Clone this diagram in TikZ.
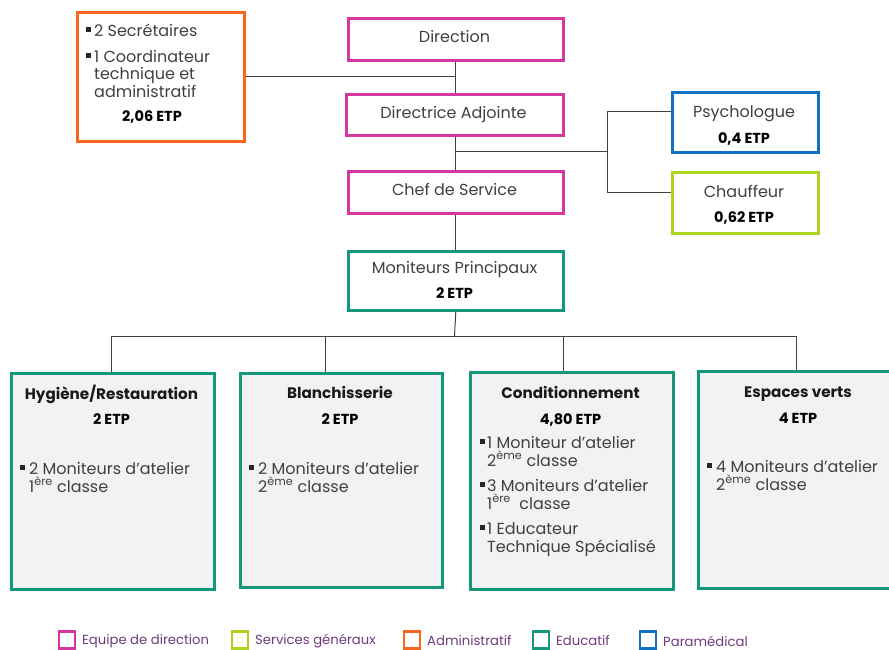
\documentclass[tikz,border=0pt]{standalone}
\usepackage{fontspec}
\setmainfont{Poppins}
\definecolor{cMag}{HTML}{D4379E}
\definecolor{cLime}{HTML}{ADD420}
\definecolor{cOr}{HTML}{F7661E}
\definecolor{cTeal}{HTML}{14977B}
\definecolor{cBlue}{HTML}{0E72C4}
\definecolor{tgray}{HTML}{404040}
\definecolor{lpurp}{HTML}{6E3A7E}
\definecolor{bfill}{HTML}{F2F2F2}
\newcommand\tl[4]{\node[txt,anchor=base west] (#1) at (#2,#3) {#4};}
\newcommand\tc[4]{\node[txt,anchor=base] (#1) at (#2,#3) {#4};}
\newcommand\tb[4]{\node[btxt,anchor=base] (#1) at (#2,#3) {#4};}
\newcommand\thd[4]{\node[htxt,anchor=base] (#1) at (#2,#3) {#4};}
\newcommand\bsq[2]{\fill[black!85] (#1,#2-9.5) rectangle ++(5,5);}
\begin{document}
\begin{tikzpicture}[x=1pt,y=-1pt,
  box/.style={draw=#1, line width=2.6pt, inner sep=0pt, anchor=north west},
  gbox/.style={box=cTeal, fill=bfill},
  txt/.style={inner sep=0pt, text=tgray, font=\fontsize{16}{18}\selectfont},
  btxt/.style={inner sep=0pt, text=black, font=\fontsize{14.5}{16}\selectfont\bfseries},
  htxt/.style={inner sep=0pt, text=black!90, font=\fontsize{15.2}{17}\selectfont\bfseries},
  conn/.style={draw=black!75, line width=1pt},
  leg/.style={draw=#1, line width=2.4pt, minimum width=16pt, minimum height=17pt, inner sep=0pt, anchor=west},
  legt/.style={inner sep=0pt, text=lpurp, anchor=west, font=\fontsize{13.2}{14}\selectfont}
]
\useasboundingbox (0,0) rectangle (889,650);

% boxes
\node[box=cOr, minimum width=167pt, minimum height=129pt] (adm) at (76,11) {};
\node[box=cMag, minimum width=215pt, minimum height=42pt] (dir) at (347,17) {};
\node[box=cMag, minimum width=217pt, minimum height=41pt] (adj) at (345,93) {};
\node[box=cMag, minimum width=215pt, minimum height=42pt] (chef) at (347,170) {};
\node[box=cTeal, minimum width=215pt, minimum height=59pt] (mp) at (347,250) {};
\node[box=cBlue, minimum width=146pt, minimum height=60pt] (psy) at (671,91) {};
\node[box=cLime, minimum width=146pt, minimum height=61pt] (chf) at (671,171) {};
\node[gbox, minimum width=203pt, minimum height=216pt] (hyg) at (10,372) {};
\node[gbox, minimum width=202pt, minimum height=214pt] (bla) at (239,372) {};
\node[gbox, minimum width=203pt, minimum height=217pt] (cond) at (469,371) {};
\node[gbox, minimum width=205pt, minimum height=217pt] (esp) at (697,370) {};

% connectors
\coordinate (ja) at (454.5,152);
\coordinate (jc) at (607,152);
\coordinate (pa) at (607,112);
\coordinate (pb) at (607,192);
\coordinate (bar) at (454.5,336);
\coordinate (d1) at (111,336);
\coordinate (d2) at (325,336);
\coordinate (d3) at (563,336);
\coordinate (d4) at (796,336);
\draw[conn] (dir.south) -- (adj.north -| dir.south);
\draw[conn] (adj.south -| dir.south) -- (chef.north);
\draw[conn] (chef.south) -- (mp.north);
\draw[conn] (adm.east) -- (adm.east -| dir.south);
\draw[conn] (ja) -- (jc);
\draw[conn] (pa) -- (pb);
\draw[conn] (pa) -- (pa -| psy.west);
\draw[conn] (pb) -- (pb -| chf.west);
\draw[conn] (mp.south) -- (bar);
\draw[conn] (d1) -- (d4);
\draw[conn] (d1) -- (d1 |- hyg.north);
\draw[conn] (d2) -- (d2 |- bla.north);
\draw[conn] (d3) -- (d3 |- cond.north);
\draw[conn] (d4) -- (d4 |- esp.north);

% top texts
\tc{tdir}{454.5}{43}{Direction}
\tc{tadj}{453.5}{119}{Directrice Adjointe}
\tc{tchef}{454.5}{196}{Chef de Service}
\tc{tmp}{454.5}{273}{Moniteurs Principaux}
\tb{tmpe}{454.5}{298}{2 ETP}
\tc{tpsy}{744}{118}{Psychologue}
\tb{tpsye}{744}{143}{0,4 ETP}
\tc{tchf}{744}{197}{Chauffeur}
\tb{tchfe}{744}{222}{0,62 ETP}

% admin
\bsq{86}{37}
\tl{ta1}{94}{37}{2 Secrétaires}
\bsq{86}{63}
\tl{ta2}{94}{63}{1 Coordinateur}
\tl{ta3}{94}{80}{technique et}
\tl{ta4}{94}{98}{administratif}
\tb{tae}{152}{122}{2,06 ETP}

% Hygiene
\thd{th1}{111.5}{399}{Hygiène/Restauration}
\tb{th2}{111.5}{424}{2 ETP}
\bsq{20}{474}
\tl{th3}{29}{474}{2 Moniteurs d’atelier}
\tl{th4}{29}{492}{1\textsuperscript{ère} classe}

% Blanchisserie
\thd{tb1}{340}{398}{Blanchisserie}
\tb{tb2}{340}{424}{2 ETP}
\bsq{249}{474}
\tl{tb3}{258}{474}{2 Moniteurs d’atelier}
\tl{tb4}{258}{492}{2\textsuperscript{ème} classe}

% Conditionnement
\thd{tc1}{570.5}{398}{Conditionnement}
\tb{tc2}{570.5}{424}{4,80 ETP}
\bsq{480}{448}
\tl{tc3}{487}{448}{1 Moniteur d’atelier}
\tl{tc4}{487}{466}{2\textsuperscript{ème} classe}
\bsq{480}{491}
\tl{tc5}{487}{491}{3 Moniteurs d’atelier}
\tl{tc6}{487}{509}{1\textsuperscript{ère}\ \ classe}
\bsq{480}{534}
\tl{tc7}{487}{534}{1 Educateur}
\tl{tc8}{487}{552}{Technique Spécialisé}

% Espaces verts
\thd{te1}{798}{397}{Espaces verts}
\tb{te2}{798}{423}{4 ETP}
\bsq{707}{472}
\tl{te3}{716}{472}{4 Moniteurs d’atelier}
\tl{te4}{716}{490}{2\textsuperscript{ème} classe}

% legend
\node[leg=cMag] (l1) at (58,640) {};
\node[legt] (lt1) at (82,641) {Equipe de direction};
\node[leg=cLime] (l2) at (231,640) {};
\node[legt] (lt2) at (255,641) {Services généraux};
\node[leg=cOr] (l3) at (403,640) {};
\node[legt] (lt3) at (427,641) {Administratif};
\node[leg=cTeal] (l4) at (532,640) {};
\node[legt] (lt4) at (556,641) {Educatif};
\node[leg=cBlue] (l5) at (639,640) {};
\node[legt] (lt5) at (663,641) {Paramédical};
\end{tikzpicture}
\end{document}
